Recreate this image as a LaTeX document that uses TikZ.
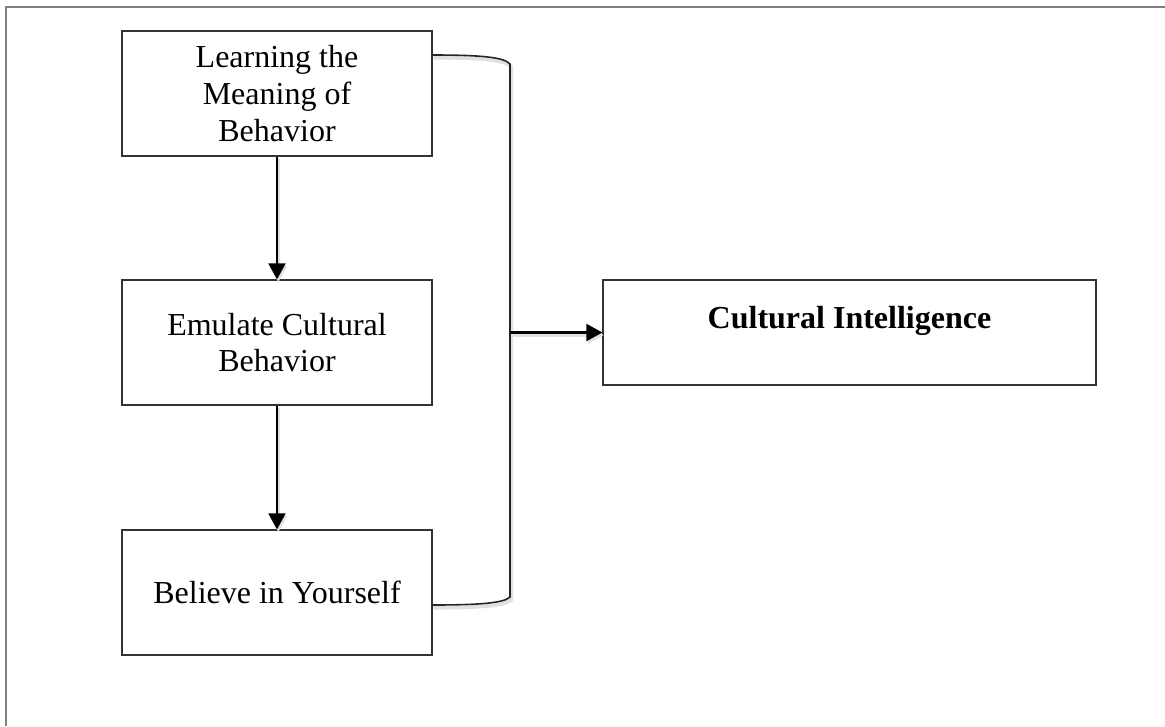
\documentclass[tikz,border=0pt]{standalone}
\usepackage{fontspec}
\setmainfont{Liberation Serif}
\usetikzlibrary{arrows.meta}
\begin{document}
\begin{tikzpicture}[x=0.75pt,y=-0.75pt,
  frameline/.style={draw=black!50, line width=1.5pt},
  stepbox/.style={draw=black!80, line width=0.8pt, fill=white,
    minimum width=232.5pt, minimum height=93.75pt, inner sep=0pt,
    align=center, font=\fontsize{24}{27.5}\selectfont},
  resultbox/.style={stepbox, minimum width=369.75pt, minimum height=78.75pt,
    font=\fontsize{24}{27}\selectfont\bfseries},
  softshadow/.style={preaction={draw=black!12, line width=2.8pt,
    transform canvas={shift={(1pt,-2pt)}}}},
  flow/.style={line width=2pt, softshadow,
    -{Triangle[length=12pt,width=12.5pt]}},
  bracket/.style={draw=black!85, line width=1.2pt, softshadow}
]
\useasboundingbox (0,0) rectangle (1165,726);

% page frame: only the top and left rules
\draw[frameline] (6,726) -- (6,6.5) -- (1165,6.5);

% the three steps
\node[stepbox] (learn) at (277,93.5) {Learning the\\Meaning of\\Behavior};
\node[stepbox] (emulate) at (277,342.5) {Emulate Cultural\\Behavior};
\node[stepbox] (believe) at (277,592.5) {Believe in Yourself};

% outcome
\node[resultbox] (ci) at (849.5,332.5)
  {\raisebox{9pt}[\height][\depth]{Cultural Intelligence}};

% step-to-step arrows
\draw[flow] (learn) -- (emulate);
\draw[flow] (emulate) -- (believe);

% bracket gathering the steps
\coordinate (bTop) at (432,55);
\coordinate (bBot) at (432,605);
\coordinate (bJoin) at (510,332.5);
\draw[bracket] (bTop) .. controls (480,55) and (504,57) .. (510,64)
  -- (510,597) .. controls (504,603) and (480,605) .. (bBot);

\draw[flow] (bJoin) -- (ci.west);
\end{tikzpicture}
\end{document}
